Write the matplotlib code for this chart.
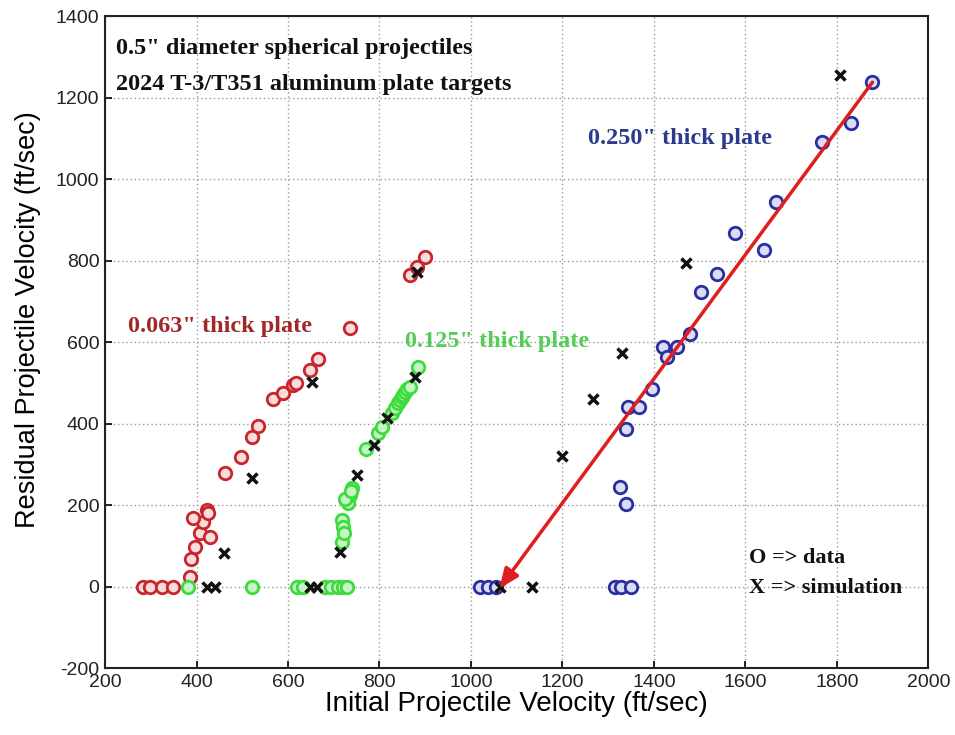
import matplotlib
matplotlib.use("Agg")
import matplotlib.pyplot as plt

plt.rcParams["axes.unicode_minus"] = False

# Data
red_x = [283, 298, 325, 349, 386, 389, 397, 408, 430, 414, 393, 423, 425, 463, 498, 522, 535,
         568, 589, 611, 618, 649, 666, 736, 867, 883, 900]
red_y = [0, 0, 0, 0, 23, 67, 97, 131, 121, 158, 168, 188, 180, 279, 318, 367, 394,
         460, 475, 494, 499, 531, 558, 634, 764, 784, 809]

green_x = [382, 522, 620, 633, 680, 695, 710, 720, 728, 718, 718, 720, 722, 731, 736, 740,
           725, 738, 771, 797, 806, 828, 835, 841, 845, 849, 852, 856, 860, 867, 885]
green_y = [0, 0, 0, 0, 0, 0, 0, 0, 0, 109, 163, 146, 131, 205, 225, 242,
           214, 234, 337, 376, 392, 426, 438, 450, 458, 465, 470, 478, 484, 490, 539]

blue_x = [1020, 1038, 1055, 1315, 1328, 1350, 1325, 1340, 1338, 1344, 1368, 1397, 1421, 1429,
          1450, 1478, 1502, 1537, 1578, 1640, 1668, 1767, 1832, 1878]
blue_y = [0, 0, 0, 0, 0, 0, 244, 202, 387, 441, 441, 485, 588, 564,
          588, 620, 723, 767, 867, 826, 943, 1091, 1137, 1238]

sim_x = [423, 441, 460, 522, 653, 883, 649, 664, 714, 751, 789, 817, 878, 1064, 1134, 1200,
         1266, 1331, 1471, 1806]
sim_y = [0, 0, 82, 266, 502, 772, 0, 0, 85, 273, 347, 414, 514, 0, 0, 320,
         460, 573, 794, 1255]

arrow_start = (1878, 1238)
arrow_end = (1062, -5)

x_ticks = [200, 400, 600, 800, 1000, 1200, 1400, 1600, 1800, 2000]
y_ticks = [-200, 0, 200, 400, 600, 800, 1000, 1200, 1400]

RED = "#C8262A"
GREEN = "#3DDC3D"
BLUE = "#2A2FA0"

fig = plt.figure(figsize=(9.55, 7.35), dpi=100)
ax = fig.add_axes([0.110, 0.091, 0.862, 0.887])

ax.grid(True, linestyle=(0, (1, 2)), color="#9a9a9a", linewidth=1.0)
ax.set_axisbelow(True)

ms = 9
ax.plot(red_x, red_y, "o", mfc="#f6dede", mec=RED, mew=2.0, ms=ms, zorder=3)
ax.plot(green_x, green_y, "o", mfc="#c8f5c8", mec=GREEN, mew=2.0, ms=ms, zorder=3)
ax.plot(blue_x, blue_y, "o", mfc="#dcdcf4", mec=BLUE, mew=2.0, ms=ms, zorder=3)
ax.plot(sim_x, sim_y, "x", color="#111111", mew=2.5, ms=7, zorder=4)

ax.annotate("", xy=arrow_end, xytext=arrow_start,
            arrowprops=dict(arrowstyle="-|>,head_length=1.2,head_width=0.5",
                            color="#E01E1E", lw=2.5, shrinkA=0, shrinkB=0),
            zorder=5)

ax.set_xlim(200, 2000)
ax.set_ylim(-200, 1400)
ax.set_xticks(x_ticks)
ax.set_yticks(y_ticks)
ax.tick_params(direction="in", length=5, width=1.2, labelsize=14, top=False, right=False,
               pad=4, labelcolor="#222222")
for s in ax.spines.values():
    s.set_linewidth(1.5)
    s.set_color("#222222")

lab_font = {"family": "Liberation Sans", "size": 20}
ax.set_xlabel("Initial Projectile Velocity (ft/sec)", fontdict=lab_font, labelpad=0)
ax.set_ylabel("Residual Projectile Velocity (ft/sec)", fontdict=dict(lab_font, size=19.5))
ax.yaxis.set_label_coords(-0.078, 0.535)
for t in ax.get_xticklabels() + ax.get_yticklabels():
    t.set_family("Liberation Sans")

serif = {"family": "Liberation Serif", "weight": "bold", "size": 17.5}
ax.text(225, 1321, "0.5\" diameter spherical projectiles", color="#111111", va="center", **serif)
ax.text(225, 1233, "2024 T-3/T351 aluminum plate targets", color="#111111", va="center", **serif)
ax.text(1257, 1100, "0.250\" thick plate", color="#2B3A8C", va="center", **serif)
ax.text(250, 639, "0.063\" thick plate", color="#A0282A", va="center", **serif)
ax.text(856, 602, "0.125\" thick plate", color="#55CC55", va="center", **serif)
leg = dict(serif, size=16)
ax.text(1607, 70, "O => data", color="#111111", va="center", **leg)
ax.text(1607, -3, "X => simulation", color="#111111", va="center", **leg)

fig.savefig("out.png", dpi=100)
